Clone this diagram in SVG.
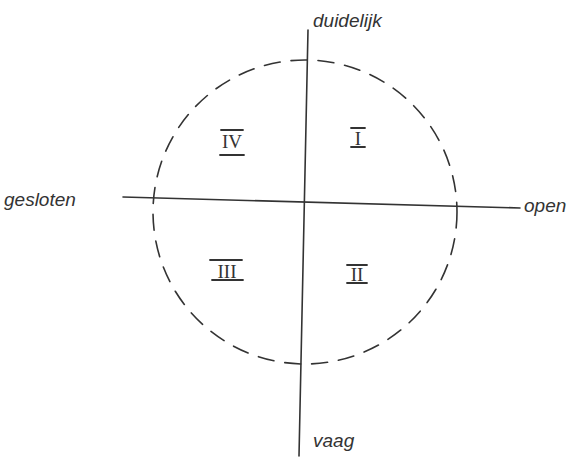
<svg xmlns="http://www.w3.org/2000/svg" width="576" height="467" viewBox="0 0 576 467">
<style>
.ax{stroke:#333;stroke-width:1.6;fill:none;stroke-linecap:round}
.circ{stroke:#333;stroke-width:1.6;fill:none;stroke-dasharray:16 11;stroke-linecap:round}
.lbl{font-family:"Liberation Sans",sans-serif;font-style:italic;font-size:19px;fill:#333}
.num{font-family:"Liberation Serif",serif;font-size:19px;fill:#333;text-anchor:middle}
.bar{stroke:#333;stroke-width:1.8;stroke-linecap:round}
</style>
<rect width="576" height="467" fill="#fff"/>
<g id="connectors">
<circle class="circ" cx="305" cy="212" r="152"/>
<line id="v-axis" class="ax" x1="308" y1="30" x2="299" y2="456"/>
<line id="h-axis" class="ax" x1="123" y1="197" x2="520" y2="208"/>
</g>
<g id="duidelijk"><text class="lbl" x="313" y="27">duidelijk</text></g>
<g id="gesloten"><text class="lbl" x="4" y="206">gesloten</text></g>
<g id="open"><text class="lbl" x="524" y="212">open</text></g>
<g id="vaag"><text class="lbl" x="313" y="447">vaag</text></g>
<g id="q1"><line class="bar" x1="351" y1="128" x2="365" y2="128"/><text class="num" x="358" y="145">I</text><line class="bar" x1="351" y1="147" x2="365" y2="147"/></g>
<g id="q4"><line class="bar" x1="221" y1="130" x2="243" y2="130"/><text class="num" x="232" y="148">IV</text><line class="bar" x1="220" y1="155" x2="244" y2="155"/></g>
<g id="q3"><line class="bar" x1="210" y1="260" x2="242" y2="260"/><text class="num" x="227" y="278">III</text><line class="bar" x1="212" y1="280" x2="243" y2="280"/></g>
<g id="q2"><line class="bar" x1="347" y1="265" x2="367" y2="265"/><text class="num" x="357" y="281">II</text><line class="bar" x1="347" y1="283" x2="367" y2="283"/></g>
</svg>
